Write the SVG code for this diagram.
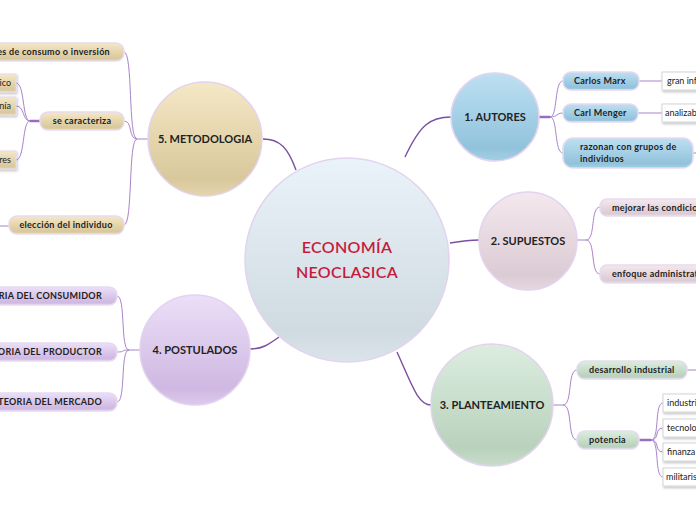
<svg xmlns="http://www.w3.org/2000/svg" width="696" height="520" viewBox="0 0 696 520">
<defs>
<linearGradient id="gC" x1="0" y1="0" x2="0" y2="1"><stop offset="0" stop-color="#e9f3f9"/><stop offset="0.85" stop-color="#d0dbe1"/><stop offset="1" stop-color="#dae4ea"/></linearGradient>
<linearGradient id="gB" x1="0" y1="0" x2="0" y2="1"><stop offset="0" stop-color="#bde0f2"/><stop offset="0.85" stop-color="#92c3dc"/><stop offset="1" stop-color="#a3cfe4"/></linearGradient>
<linearGradient id="gP" x1="0" y1="0" x2="0" y2="1"><stop offset="0" stop-color="#f4e8ee"/><stop offset="0.85" stop-color="#dccbd4"/><stop offset="1" stop-color="#e6d8df"/></linearGradient>
<linearGradient id="gG" x1="0" y1="0" x2="0" y2="1"><stop offset="0" stop-color="#dcede0"/><stop offset="0.85" stop-color="#b9d2bc"/><stop offset="1" stop-color="#c8ddca"/></linearGradient>
<linearGradient id="gV" x1="0" y1="0" x2="0" y2="1"><stop offset="0" stop-color="#ecdff8"/><stop offset="0.85" stop-color="#cfb8e2"/><stop offset="1" stop-color="#dccaec"/></linearGradient>
<linearGradient id="gT" x1="0" y1="0" x2="0" y2="1"><stop offset="0" stop-color="#f5e8c6"/><stop offset="0.85" stop-color="#d9c89c"/><stop offset="1" stop-color="#e4d5ae"/></linearGradient>
<filter id="sh" x="-10%" y="-10%" width="130%" height="140%"><feDropShadow dx="1" dy="1.5" stdDeviation="0.8" flood-color="#000" flood-opacity="0.25"/></filter>
</defs>
<style>
.main{stroke:#e2d3ee;stroke-width:1.5}
.sub{stroke:#e6daf0;stroke-width:1.5}
.box{fill:#fff;stroke:#d4d4d4;stroke-width:1}
.tbox{stroke:#e6daf0;stroke-width:1}
.c1{fill:none;stroke:#7b4fa0;stroke-width:1.4}
.c2{fill:none;stroke:#a884c8;stroke-width:1}
.c3{fill:none;stroke:#9a6cc0;stroke-width:2.5}
text{font-family:"Lato","Open Sans","Liberation Sans",sans-serif;fill:#222}
.tt{font-size:11px;font-weight:700;text-anchor:middle}
.st{font-size:9px;font-weight:700;letter-spacing:0.3px}
.wt{font-size:9px;font-weight:400}
.ct{font-size:16px;font-weight:600;fill:#c8193c;text-anchor:middle;letter-spacing:0.3px}
</style>
<g id="connectors">
<path class="c1" d="M405,157 C420,125 430,117 451,117"/>
<path class="c1" d="M450,243 C462,241 468,240 479,240"/>
<path class="c1" d="M397,352 C412,385 418,405 431,405"/>
<path class="c1" d="M279,337 C268,345 262,349 250,349"/>
<path class="c1" d="M296,170 C288,148 280,139 263,139"/>
<path class="c3" d="M539,117 L550,117"/>
<path class="c2" d="M550,117 C558,117 554,81 563,81 M550,117 C558,117 556,113 563,113 M550,117 C558,117 554,153 563,153"/>
<path class="c2" d="M639,81 L662,81 M638,113 L662,113 M693,153 L696,153"/>
<path class="c2" d="M577,240 L586,240 C596,240 590,207 600,207 M586,240 C596,240 590,274 600,274"/>
<path class="c2" d="M553,405 L563,405 C573,405 567,370 577,370 M563,405 C573,405 567,440 577,440"/>
<path class="c2" d="M687,370 L696,370"/>
<path class="c3" d="M639,440 L651,440"/>
<path class="c2" d="M651,440 C660,440 654,403 663,403 M651,440 C660,440 654,428 663,428 M651,440 C660,440 654,452 663,452 M651,440 C660,440 654,477 663,477"/>
<path class="c2" d="M140,350 L129,350 C120,350 126,296 117,296 M129,350 C120,350 126,352 117,352 M129,350 C120,350 126,402 117,402"/>
<path class="c2" d="M148,139 L137,139 C128,139 133,52 124,52 M137,139 C128,139 133,121 124,121 M137,139 C128,139 133,225 124,225"/>
<path class="c3" d="M40,121 L30,121"/>
<path class="c2" d="M30,121 C22,121 25,83 16,83 M30,121 C22,121 25,106 16,106 M30,121 C22,121 25,160 16,160"/>
<path class="c2" d="M9,226 L0,226"/>
</g>
<g id="central"><circle class="main" cx="347" cy="260" r="102" fill="url(#gC)"/><text class="ct" x="347" y="253">ECONOMÍA</text><text class="ct" x="347" y="278">NEOCLASICA</text></g>
<g id="autores"><circle class="main" cx="495" cy="117" r="44" fill="url(#gB)"/><text class="tt" x="495" y="121">1. AUTORES</text></g>
<g id="supuestos"><circle class="main" cx="528" cy="241" r="49" fill="url(#gP)"/><text class="tt" x="528" y="245">2. SUPUESTOS</text></g>
<g id="planteamiento"><circle class="main" cx="492" cy="405" r="61" fill="url(#gG)"/><text class="tt" x="492" y="409">3. PLANTEAMIENTO</text></g>
<g id="postulados"><circle class="main" cx="195" cy="350" r="55" fill="url(#gV)"/><text class="tt" x="195" y="354">4. POSTULADOS</text></g>
<g id="metodologia"><circle class="main" cx="205" cy="139" r="57" fill="url(#gT)"/><text class="tt" x="205" y="143">5. METODOLOGIA</text></g>

<g id="carlos-marx"><rect class="sub" x="563" y="72" width="76" height="18" rx="8" fill="url(#gB)"/><text class="st" x="574" y="84">Carlos Marx</text></g>
<g id="gran-inf"><rect class="box" x="662" y="72" width="40" height="18" filter="url(#sh)"/><text class="wt" x="667" y="84">gran inf</text></g>
<g id="carl-menger"><rect class="sub" x="563" y="104" width="75" height="18" rx="8" fill="url(#gB)"/><text class="st" x="574" y="116">Carl Menger</text></g>
<g id="analizab"><rect class="box" x="662" y="104" width="40" height="18" filter="url(#sh)"/><text class="wt" x="665" y="116">analizab</text></g>
<g id="razonan"><rect class="sub" x="563" y="138" width="130" height="30" rx="10" fill="url(#gB)"/><text class="st" x="580" y="150">razonan con grupos de</text><text class="st" x="580" y="162">individuos</text></g>

<g id="mejorar"><rect class="sub" x="600" y="199" width="110" height="17" rx="7" fill="url(#gP)"/><text class="st" x="612" y="211">mejorar las condicio</text></g>
<g id="enfoque"><rect class="sub" x="600" y="265" width="110" height="18" rx="7" fill="url(#gP)"/><text class="st" x="612" y="277">enfoque administrat</text></g>

<g id="desarrollo"><rect class="sub" x="577" y="361" width="110" height="18" rx="8" fill="url(#gG)"/><text class="st" x="589" y="373">desarrollo industrial</text></g>
<g id="potencia"><rect class="sub" x="577" y="431" width="62" height="18" rx="8" fill="url(#gG)"/><text class="st" x="589" y="443">potencia</text></g>
<g id="industri"><rect class="box" x="663" y="394" width="40" height="18" filter="url(#sh)"/><text class="wt" x="667" y="406">industri</text></g>
<g id="tecnolo"><rect class="box" x="663" y="419" width="40" height="18" filter="url(#sh)"/><text class="wt" x="667" y="431">tecnolo</text></g>
<g id="finanza"><rect class="box" x="663" y="443" width="40" height="18" filter="url(#sh)"/><text class="wt" x="667" y="455">finanza</text></g>
<g id="militaris"><rect class="box" x="663" y="468" width="40" height="18" filter="url(#sh)"/><text class="wt" x="666" y="480">militaris</text></g>

<g id="consumidor"><rect class="sub" x="-20" y="287" width="137" height="18" rx="8" fill="url(#gV)"/><text class="st" x="102" y="299" text-anchor="end">TEORIA DEL CONSUMIDOR</text></g>
<g id="productor"><rect class="sub" x="-20" y="343" width="137" height="18" rx="8" fill="url(#gV)"/><text class="st" x="102" y="355" text-anchor="end">TEORIA DEL PRODUCTOR</text></g>
<g id="mercado"><rect class="sub" x="-14" y="393" width="131" height="18" rx="8" fill="url(#gV)"/><text class="st" x="102" y="405" text-anchor="end">TEORIA DEL MERCADO</text></g>

<g id="consumo"><rect class="sub" x="-20" y="43" width="144" height="18" rx="8" fill="url(#gT)"/><text class="st" x="110" y="55" text-anchor="end">es de consumo o inversión</text></g>
<g id="se-caracteriza"><rect class="sub" x="40" y="112" width="84" height="18" rx="8" fill="url(#gT)"/><text class="st" x="82" y="124" text-anchor="middle">se caracteriza</text></g>
<g id="ico"><rect class="tbox" x="-20" y="74" width="36" height="18" fill="url(#gT)" filter="url(#sh)"/><text class="wt" x="11" y="86" text-anchor="end">ico</text></g>
<g id="nia"><rect class="tbox" x="-20" y="97" width="36" height="18" fill="url(#gT)" filter="url(#sh)"/><text class="wt" x="11" y="109" text-anchor="end">nía</text></g>
<g id="res"><rect class="tbox" x="-20" y="151" width="36" height="18" fill="url(#gT)" filter="url(#sh)"/><text class="wt" x="11" y="163" text-anchor="end">res</text></g>
<g id="eleccion"><rect class="sub" x="9" y="216" width="115" height="18" rx="8" fill="url(#gT)"/><text class="st" x="66" y="228" text-anchor="middle">elección del individuo</text></g>
</svg>
